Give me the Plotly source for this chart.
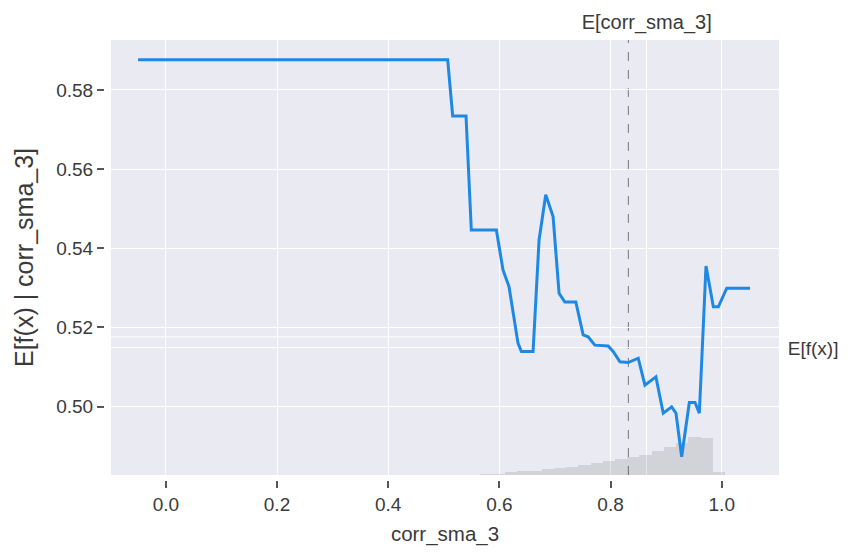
import plotly.graph_objects as go

# Partial dependence curve (feature value, expected model output)
feature_x = [-0.05, 0.507, 0.516, 0.540, 0.5495, 0.5946, 0.6065, 0.6173, 0.6335, 0.6396,
             0.6606, 0.6714, 0.6834, 0.6966, 0.7074, 0.7177, 0.7375, 0.7507, 0.7597,
             0.7717, 0.7957, 0.8047, 0.8168, 0.8317, 0.8498, 0.8618, 0.8816, 0.8948,
             0.9099, 0.9177, 0.9279, 0.9417, 0.9519, 0.9597, 0.9717, 0.9849, 0.9939,
             1.009, 1.051]
pd_values = [0.5876, 0.5876, 0.5734, 0.5734, 0.5446, 0.5446, 0.5345, 0.5303, 0.5160, 0.5139,
             0.5139, 0.5421, 0.5535, 0.5480, 0.5286, 0.5264, 0.5264, 0.5181, 0.5176,
             0.5155, 0.5153, 0.5139, 0.5113, 0.5111, 0.5122, 0.5054, 0.5075, 0.4983,
             0.4999, 0.4983, 0.4873, 0.5010, 0.5010, 0.4983, 0.5355, 0.5252, 0.5252,
             0.5299, 0.5299]

# Histogram of feature values (bin centres, relative counts)
hist_bins = [0.577, 0.599, 0.621, 0.643, 0.665, 0.687, 0.709, 0.731, 0.753, 0.775,
             0.797, 0.819, 0.841, 0.863, 0.885, 0.907, 0.929, 0.951, 0.973, 0.995]
hist_counts = [1, 1, 3, 4, 4, 6, 7, 8, 10, 12, 14, 16, 18, 20, 24, 28, 32, 38, 37, 3]
hist_width = 0.022

mean_line_x = 0.832          # dashed vertical line
top_tick_x = 0.865           # E[corr_sma_3] tick on the top axis
expected_fx = 0.5148         # E[f(x)] tick on the right axis
extra_grid_y = [0.5176]

x_ticks = [0.0, 0.2, 0.4, 0.6, 0.8, 1.0]
y_ticks = [0.50, 0.52, 0.54, 0.56, 0.58]

x_range = [-0.0986, 1.103]
y_range = [0.4827, 0.5926]

font_family = "Liberation Sans, Arial, sans-serif"
tick_color = "#3a3a3a"
x_dom = [0.0104, 1]
y_dom = [0.0114, 1]

fig = go.Figure()

# histogram on the main (hidden) y axis so it sits beneath the curve
fig.add_trace(go.Bar(
    x=hist_bins, y=hist_counts, width=hist_width,
    marker=dict(color="rgba(0,0,0,0.1)", line=dict(width=0)),
    xaxis="x", yaxis="y", hoverinfo="skip", showlegend=False,
))

fig.add_trace(go.Scatter(
    x=feature_x, y=pd_values, mode="lines",
    line=dict(color="#1E88E5", width=3),
    xaxis="x", yaxis="y2", showlegend=False,
))

# empty helper so the secondary axes get drawn
fig.add_trace(go.Scatter(x=[None], y=[None], xaxis="x2", yaxis="y3",
                         mode="markers", hoverinfo="skip", showlegend=False))

shapes = []
for yv in extra_grid_y:
    shapes.append(dict(type="line", xref="x domain", x0=0, x1=1, yref="y2", y0=yv, y1=yv,
                       line=dict(color="white", width=1), layer="below"))
shapes.append(dict(type="line", xref="x", x0=mean_line_x, x1=mean_line_x,
                   yref="y domain", y0=0, y1=1,
                   line=dict(color="#777777", width=1, dash="dash"), layer="below"))

fig.update_layout(
    width=848, height=555,
    margin=dict(l=96, r=77, t=32, b=83, autoexpand=False),
    paper_bgcolor="white",
    plot_bgcolor="#EAEAF2",
    font=dict(family=font_family, color=tick_color, size=19),
    bargap=0,
    shapes=shapes,
    xaxis=dict(
        domain=x_dom, anchor="free", position=0,
        range=x_range, tickvals=x_ticks, ticktext=[f"{v:.1f}" for v in x_ticks],
        showgrid=True, gridcolor="white", gridwidth=1, zeroline=False, showline=False,
        ticks="outside", ticklen=7, tickcolor="#555555", tickwidth=1.5,
        tickfont=dict(size=19, color=tick_color), automargin=False,
        title=dict(text="corr_sma_3", font=dict(size=20.5, color=tick_color), standoff=12),
    ),
    xaxis2=dict(
        domain=x_dom, range=x_range, overlaying="x", side="top", anchor="y3",
        tickvals=[top_tick_x], ticktext=["E[corr_sma_3]"],
        showgrid=True, gridcolor="white", gridwidth=1, zeroline=False, showline=False,
        ticks="outside", ticklen=2, tickcolor="rgba(0,0,0,0)",
        tickfont=dict(size=20, color=tick_color), automargin=False,
    ),
    yaxis=dict(
        domain=y_dom, range=[0, 435], visible=False, showgrid=False, zeroline=False,
        anchor="x",
    ),
    yaxis2=dict(
        domain=y_dom, range=y_range, overlaying="y", side="left", anchor="free", position=0,
        tickvals=y_ticks, ticktext=[f"{v:.2f}" for v in y_ticks],
        showgrid=True, gridcolor="white", gridwidth=1, zeroline=False, showline=False,
        ticks="outside", ticklen=7, tickcolor="#555555", tickwidth=1.5,
        tickfont=dict(size=19, color=tick_color), automargin=False,
        title=dict(text="E[f(x) | corr_sma_3]", font=dict(size=25, color=tick_color), standoff=14),
    ),
    yaxis3=dict(
        domain=y_dom, range=y_range, overlaying="y", side="right", anchor="x2",
        tickvals=[expected_fx], ticktext=["E[f(x)]"],
        showgrid=True, gridcolor="white", gridwidth=1, zeroline=False, showline=False,
        ticks="outside", ticklen=4, tickcolor="rgba(0,0,0,0)",
        tickfont=dict(size=19, color=tick_color), automargin=False,
    ),
)

fig.write_html("out.html")
